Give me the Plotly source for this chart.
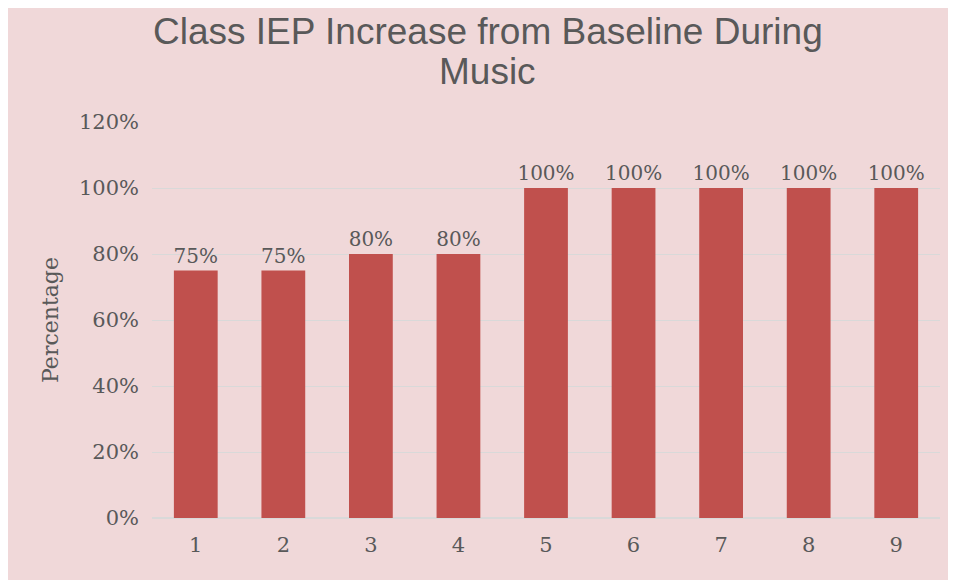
import plotly.graph_objects as go

categories = ["1", "2", "3", "4", "5", "6", "7", "8", "9"]
values = [75, 75, 80, 80, 100, 100, 100, 100, 100]
labels = [f"{v}%" for v in values]
tick_vals = [0, 20, 40, 60, 80, 100, 120]
tick_text = ["0%", "20%", "40%", "60%", "80%", "100%", "120%"]
title_lines = ["Class IEP Increase from Baseline During", "Music"]

# page body adds an 8px margin, so the figure is sized to fill the rest
W, H = 956, 572
ml, mt = 144, 114
plot_right, plot_bottom = 932, 510
mr, mb = W - plot_right, H - plot_bottom
pw, ph = plot_right - ml, plot_bottom - mt

serif = "'DejaVu Serif', serif"
grey = "#595959"

fig = go.Figure(go.Bar(
    x=categories, y=values, text=labels, textposition="outside",
    constraintext="none",
    textfont=dict(family=serif, size=20, color=grey),
    marker=dict(color="#c0504d", line=dict(width=0)),
    cliponaxis=False,
))

for line, fy in zip(title_lines, [24, 64]):
    fig.add_annotation(text=line, xref="paper", yref="paper",
                       x=(479.5 - ml) / pw, y=(plot_bottom - fy) / ph,
                       xanchor="center", yanchor="middle", showarrow=False,
                       font=dict(family="Liberation Sans, Arial", size=37, color=grey))

fig.update_layout(
    width=W, height=H,
    margin=dict(l=ml, r=mr, t=mt, b=mb),
    paper_bgcolor="#f0d8d9", plot_bgcolor="rgba(0,0,0,0)",
    bargap=0.5, showlegend=False,
    xaxis=dict(type="category", range=[-0.5, 8.5], showgrid=False, showline=False,
               ticks="", ticklabelstandoff=12,
               tickfont=dict(family=serif, size=21, color=grey)),
    yaxis=dict(range=[0, 120], tickvals=tick_vals, ticktext=tick_text,
               showgrid=True, gridcolor="#d9d9d9", gridwidth=1, zeroline=True,
               zerolinecolor="#d9d9d9", showline=False, ticks="", ticklabelstandoff=12,
               tickfont=dict(family=serif, size=21, color=grey),
               title=dict(text="Percentage", standoff=14,
                          font=dict(family=serif, size=22, color=grey))),
)

fig.write_html("out.html")
